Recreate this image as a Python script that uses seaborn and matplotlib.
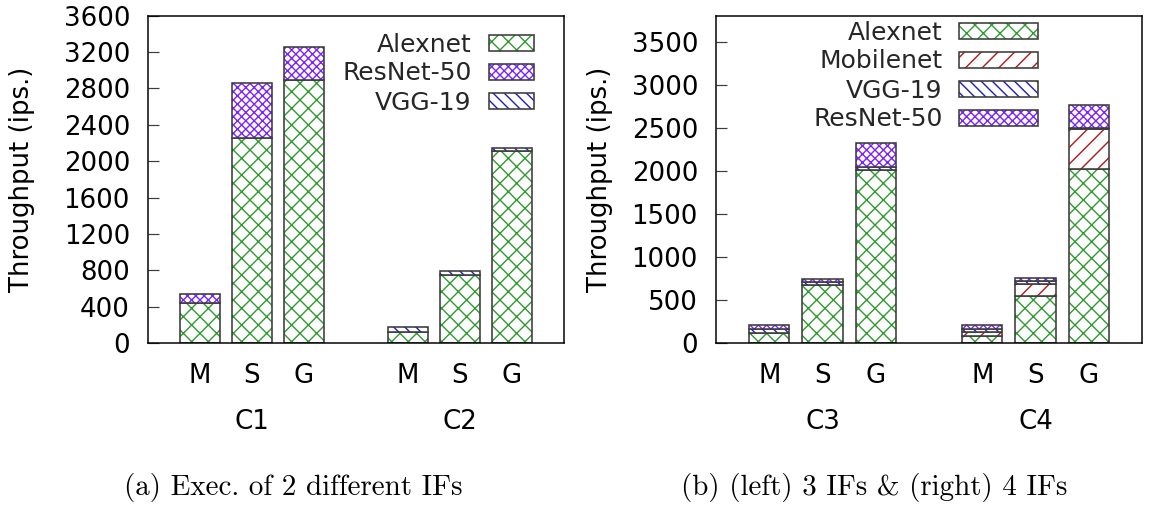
import numpy as np
import pandas as pd
import matplotlib
matplotlib.use("Agg")
import matplotlib.pyplot as plt
from matplotlib.patches import Patch
from matplotlib.legend_handler import HandlerTuple
import seaborn as sns

# ---------------- data ----------------
configs = ["M", "S", "G", "M", "S", "G"]
x_pos = [0, 1, 2, 4, 5, 6]
group_pos = [1, 5]
groups_a = ["C1", "C2"]
groups_b = ["C3", "C4"]

# (a) two inference frameworks per configuration
a_alexnet = [440, 2260, 2890, 120, 745, 2110]
a_resnet50 = [95, 595, 370, 0, 0, 0]
a_vgg19 = [0, 0, 0, 60, 45, 40]

# (b) three IFs (C3) and four IFs (C4)
b_alexnet = [120, 670, 2010, 85, 540, 2020]
b_mobilenet = [0, 0, 0, 45, 150, 460]
b_vgg19 = [45, 35, 30, 35, 35, 17]
b_resnet50 = [45, 35, 280, 45, 35, 267]

a_yticks = list(range(0, 3601, 400))
b_yticks = list(range(0, 3501, 500))

caption_a = "(a) Exec. of 2 different IFs"
caption_b = "(b) (left) 3 IFs & (right) 4 IFs"
ylabel = "Throughput (ips.)"

# ---------------- style ----------------
DPI = 100
W_PX, H_PX = 1149, 507


def pt(px):
    return px * 72.0 / DPI


GREEN = "#2f9a2f"
PURPLE = "#7a22ff"
BLUE = "#1c1cc8"
RED = "#b01818"
EDGE = "#3c3c3c"
EDGE_LW = pt(1.6)
BAR_W = 0.76

STYLE = {
    "Alexnet": ("xx", GREEN),
    "ResNet-50": ("xxxx", PURPLE),
    "VGG-19": ("\\\\\\", BLUE),
    "Mobilenet": ("//", RED),
}

sns.set_theme(style="white")
plt.rcParams["font.family"] = ["DejaVu Sans"]
plt.rcParams["hatch.linewidth"] = 1.0

TICK_FS = pt(26)
LEG_FS = pt(25)
CAP_FS = pt(29)

fig = plt.figure(figsize=(W_PX / DPI, H_PX / DPI), dpi=DPI)


def axes_rect(x0, x1, ytop, ybot):
    return [x0 / W_PX, 1 - ybot / H_PX, (x1 - x0) / W_PX, (ybot - ytop) / H_PX]


ax_a = fig.add_axes(axes_rect(148, 564, 15.7, 343))
ax_b = fig.add_axes(axes_rect(716, 1142, 15.7, 343))


def stacked(ax, layers):
    x = np.asarray(x_pos, float)
    base = np.zeros(len(x))
    for name, vals in layers:
        v = np.asarray(vals, float)
        keep = v > 0
        df = pd.DataFrame({"pos": x[keep], "value": v[keep]})
        hatch, col = STYLE[name]
        # hatched fill
        sns.barplot(data=df, x="pos", y="value", native_scale=True, width=BAR_W,
                    errorbar=None, color="white", saturation=1, hatch=hatch,
                    edgecolor=col, linewidth=0, bottom=base[keep], ax=ax)
        # outline of the segment
        sns.barplot(data=df, x="pos", y="value", native_scale=True, width=BAR_W,
                    errorbar=None, fill=False, color=EDGE, linewidth=EDGE_LW,
                    bottom=base[keep], ax=ax)
        base = base + v


def legend_handle(name):
    hatch, col = STYLE[name]
    return (Patch(facecolor="white", hatch=hatch, edgecolor=col, linewidth=0),
            Patch(facecolor="none", edgecolor=EDGE, linewidth=EDGE_LW))


def style_axes(ax, yticks, ymax, groups):
    ax.set_xlim(-1, 7)
    ax.set_ylim(0, ymax)
    ax.set_yticks(yticks)
    ax.set_yticklabels([str(t) for t in yticks])
    ax.set_xticks(x_pos)
    ax.set_xticklabels(configs)
    ax.set_xlabel("")
    ax.set_ylabel(ylabel, fontsize=TICK_FS, color="black")
    ax.tick_params(axis="y", direction="in", length=pt(11), width=pt(1.2),
                   color=EDGE, pad=pt(18), labelsize=TICK_FS, labelcolor="black",
                   left=True, right=False)
    ax.tick_params(axis="x", length=0, pad=pt(20), labelsize=TICK_FS,
                   labelcolor="black", bottom=True)
    for sp in ax.spines.values():
        sp.set_visible(True)
        sp.set_color("black")
        sp.set_linewidth(pt(1.5))
    for gx, g in zip(group_pos, groups):
        ax.text(gx, -0.241, g, transform=ax.get_xaxis_transform(),
                ha="center", va="center", fontsize=TICK_FS, color="black")
    ax.grid(False)


# ---------------- panel (a) ----------------
layers_a = [("Alexnet", a_alexnet), ("ResNet-50", a_resnet50), ("VGG-19", a_vgg19)]
stacked(ax_a, layers_a)
style_axes(ax_a, a_yticks, 3600, groups_a)
ax_a.yaxis.set_label_coords((35 - 148) / 416, 0.5)

names_a = [n for n, _ in layers_a]
ax_a.legend([legend_handle(n) for n in names_a], names_a,
            handler_map={tuple: HandlerTuple(ndivide=1, pad=0)},
            loc="upper right", bbox_to_anchor=(533.7 / W_PX, 1 - 32.5 / H_PX),
            bbox_transform=fig.transFigure, frameon=False, markerfirst=False,
            fontsize=LEG_FS, handlelength=45 / 25, handleheight=15 / 25,
            handletextpad=0.68, labelspacing=0.2, borderpad=0, borderaxespad=0)

# ---------------- panel (b) ----------------
layers_b = [("Alexnet", b_alexnet), ("Mobilenet", b_mobilenet),
            ("VGG-19", b_vgg19), ("ResNet-50", b_resnet50)]
stacked(ax_b, layers_b)
style_axes(ax_b, b_yticks, 3800, groups_b)
ax_b.yaxis.set_label_coords((613 - 716) / 426, 0.5)

names_b = [n for n, _ in layers_b]
ax_b.legend([legend_handle(n) for n in names_b], names_b,
            handler_map={tuple: HandlerTuple(ndivide=1, pad=0)},
            loc="upper right", bbox_to_anchor=(1037.7 / W_PX, 1 - 20.5 / H_PX),
            bbox_transform=fig.transFigure, frameon=False, markerfirst=False,
            fontsize=LEG_FS, handlelength=79 / 25, handleheight=15 / 25,
            handletextpad=0.64, labelspacing=0.2, borderpad=0, borderaxespad=0)

# ---------------- captions ----------------
fig.text(293 / W_PX, 1 - 488 / H_PX, caption_a, ha="center", va="center",
         fontfamily="cmr10", fontsize=CAP_FS, color="black")
fig.text(874 / W_PX, 1 - 488 / H_PX, caption_b, ha="center", va="center",
         fontfamily="cmr10", fontsize=CAP_FS, color="black")

fig.savefig("out.png", dpi=DPI)
